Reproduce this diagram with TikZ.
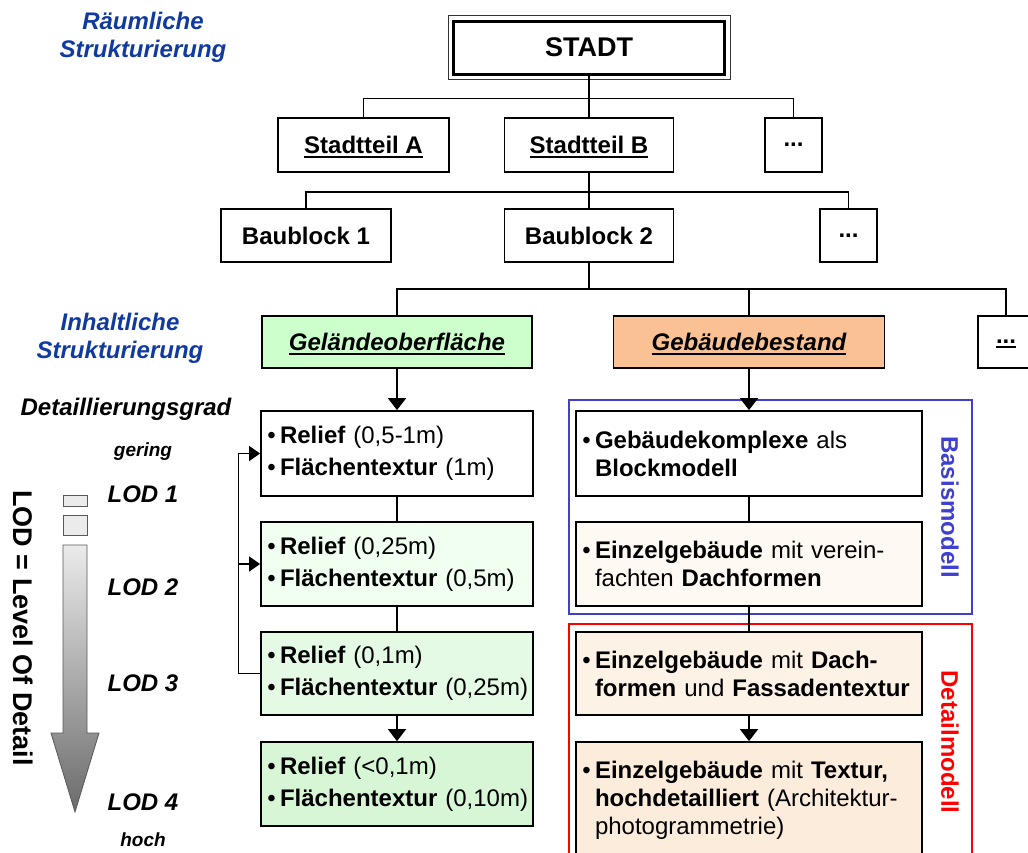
\documentclass[tikz,border=0pt]{standalone}
\usepackage{fontspec}
\setmainfont{Liberation Sans}
\usetikzlibrary{arrows.meta}

\definecolor{labelblue}{RGB}{16,58,160}
\definecolor{frameblue}{RGB}{64,64,208}
\definecolor{framered}{RGB}{255,0,0}
\definecolor{geogreen}{RGB}{204,255,204}
\definecolor{geborange}{RGB}{250,194,148}
\definecolor{lgreenA}{RGB}{240,255,240}
\definecolor{lgreenB}{RGB}{228,250,228}
\definecolor{lgreenC}{RGB}{214,246,214}
\definecolor{rpeachA}{RGB}{255,249,243}
\definecolor{rpeachB}{RGB}{253,242,230}
\definecolor{rpeachC}{RGB}{252,236,220}

\newcommand*{\ulx}[1]{\begingroup\setbox0\hbox{#1}\rlap{\raisebox{-4.5pt}[0pt][0pt]{\rule{\wd0}{2.4pt}}}\box0\endgroup}
\newcommand*{\bul}{\makebox[17pt][c]{\textbullet}}
\newcommand*{\ind}{\hspace*{17pt}}

\begin{document}
\begin{tikzpicture}[x=1pt, y=-1pt,
  box/.style={draw, line width=1.8pt, inner sep=0pt, fill=white, font=\fontsize{24}{28}\selectfont\bfseries},
  lbox/.style={draw, line width=1.8pt, inner xsep=2pt, inner ysep=0pt, text width=268pt, align=left, font=\fontsize{24}{32}\selectfont},
  rbox/.style={draw, line width=1.8pt, inner xsep=2pt, inner ysep=0pt, text width=342pt, align=left, font=\fontsize{24}{28}\selectfont},
  tree/.style={line width=1.8pt},
  arr/.style={line width=2pt, -{Triangle[length=12pt,width=18pt]}},
  back/.style={line width=1.2pt, -{Triangle[length=11pt,width=15pt]}},
  side/.style={font=\fontsize{24}{28}\selectfont\bfseries\itshape, align=center},
  small/.style={font=\fontsize{19}{22}\selectfont\bfseries\itshape}]
\useasboundingbox (0,0) rectangle (1028,852);

\draw (143,37) node[side, text=labelblue] (raum) {Räumliche\\Strukturierung};
\draw (120,338) node[side, text=labelblue] (inhalt) {Inhaltliche\\Strukturierung};
\draw (126,409) node[side] (grad) {Detaillierungsgrad};
\draw (143,452) node[small] (gering) {gering};
\draw (143,494) node[side] (lod1) {LOD 1};
\draw (143,587) node[side] (lod2) {LOD 2};
\draw (143,683) node[side] (lod3) {LOD 3};
\draw (143,802) node[side] (lod4) {LOD 4};
\draw (143,840) node[small] (hoch) {hoch};
\draw (23,628) node[rotate=-90, font=\fontsize{27}{30}\selectfont\bfseries] (lodtext) {LOD = Level Of Detail};

\draw[black!65, line width=0.8pt, fill=black!8] (63,495) rectangle (87,506);
\draw[black!65, line width=0.8pt, fill=black!8] (63,515) rectangle (87,535);
\shadedraw[top color=black!8, bottom color=black!58, draw=black!65, line width=0.8pt]
  (63,545) -- (87,545) -- (87,733) -- (99,733) -- (75,812) -- (51,733) -- (63,733) -- cycle;

\draw (589,47.5) node[box, line width=3pt, minimum width=271, minimum height=53, font=\fontsize{27}{30}\selectfont\bfseries] (stadt) {STADT};
\draw[black!80, line width=1pt] ([xshift=-4pt,yshift=4pt]stadt.north west) rectangle ([xshift=4pt,yshift=-4pt]stadt.south east);

\draw (363.5,145) node[box, minimum width=171, minimum height=54] (sta) {\ulx{Stadtteil A}};
\draw (589,145) node[box, minimum width=169, minimum height=54] (stb) {\ulx{Stadtteil B}};
\draw (793.5,145) node[box, minimum width=57, minimum height=54] (stx) {...};

\draw (306,235.5) node[box, minimum width=170, minimum height=53] (bb1) {Baublock 1};
\draw (589,235.5) node[box, minimum width=169, minimum height=53] (bb2) {Baublock 2};
\draw (848.5,235.5) node[box, minimum width=57, minimum height=53] (bbx) {...};

\draw (397,342) node[box, fill=geogreen, minimum width=270, minimum height=52, font=\fontsize{24}{28}\selectfont\bfseries\itshape] (geo) {\ulx{Geländeoberfläche}};
\draw (749,342) node[box, fill=geborange, minimum width=271, minimum height=52, font=\fontsize{24}{28}\selectfont\bfseries\itshape] (geb) {\ulx{Gebäudebestand}};
\draw (1006,342) node[box, minimum width=56, minimum height=52] (gx) {\ulx{...}};

\draw[frameblue, line width=1.5pt] (569,400) rectangle (972,614);
\draw[framered, line width=1.5pt] (569,624) rectangle (972,880);
\draw (950,507) node[rotate=-90, text=frameblue, font=\fontsize{24}{28}\selectfont\bfseries] (basis) {Basismodell};
\draw (950,742) node[rotate=-90, text=framered, font=\fontsize{24}{28}\selectfont\bfseries] (detail) {Detailmodell};

\draw (397,453.5) node[lbox, fill=white, minimum height=85] (l1) {\bul\textbf{Relief}~(0,5-1m)\\\bul\textbf{Flächentextur}~(1m)};
\draw (397,564) node[lbox, fill=lgreenA, minimum height=84] (l2) {\bul\textbf{Relief}~(0,25m)\\\bul\textbf{Flächentextur}~(0,5m)};
\draw (397,673.5) node[lbox, fill=lgreenB, minimum height=83] (l3) {\bul\textbf{Relief}~(0,1m)\\\bul\textbf{Flächentextur}~(0,25m)};
\draw (397,784) node[lbox, fill=lgreenC, minimum height=84] (l4) {\bul\textbf{Relief}~(<0,1m)\\\bul\textbf{Flächentextur}~(0,10m)};

\draw (749,453.5) node[rbox, fill=white, minimum height=85] (r1) {\bul\textbf{Gebäudekomplexe} als\\\ind\textbf{Blockmodell}};
\draw (749,564) node[rbox, fill=rpeachA, minimum height=84] (r2) {\bul\textbf{Einzelgebäude} mit verein-\\\ind fachten \textbf{Dachformen}};
\draw (749,673.5) node[rbox, fill=rpeachB, minimum height=83] (r3) {\bul\textbf{Einzelgebäude} mit \textbf{Dach-}\\\ind\textbf{formen} und \textbf{Fassadentextur}};
\draw (749,800) node[rbox, fill=rpeachC, minimum height=116] (r4) {\bul\textbf{Einzelgebäude} mit \textbf{Textur,}\\\ind\textbf{hochdetailliert} (Architektur-\\\ind photogrammetrie)};

\draw[tree] (stadt.south) -- (stb.north);
\draw[tree] (stadt.south) -- ++(0,23) -| (sta.north);
\draw[tree] (stadt.south) -- ++(0,23) -| (stx.north);

\draw[tree] (stb.south) -- (bb2.north);
\draw[tree] (stb.south) -- ++(0,19) -| (bb1.north);
\draw[tree] (stb.south) -- ++(0,19) -| (bbx.north);

\draw[tree] (bb2.south) -- ++(0,26) -| (geo.north);
\draw[tree] (bb2.south) -- ++(0,26) -| (geb.north);
\draw[tree] (bb2.south) -- ++(0,26) -| (gx.north);

\draw[arr] (geo.south) -- (l1.north);
\draw[tree] (l1.south) -- (l2.north);
\draw[tree] (l2.south) -- (l3.north);
\draw[arr] (l3.south) -- (l4.north);
\draw[back] (l3.west) -- ++(-22,0) |- (l1.west);
\draw[back] (l3.west) -- ++(-22,0) |- (l2.west);

\draw[arr] (geb.south) -- (r1.north);
\draw[tree] (r1.south) -- (r2.north);
\draw[tree] (r2.south) -- (r3.north);
\draw[arr] (r3.south) -- (r4.north);

\end{tikzpicture}
\end{document}
